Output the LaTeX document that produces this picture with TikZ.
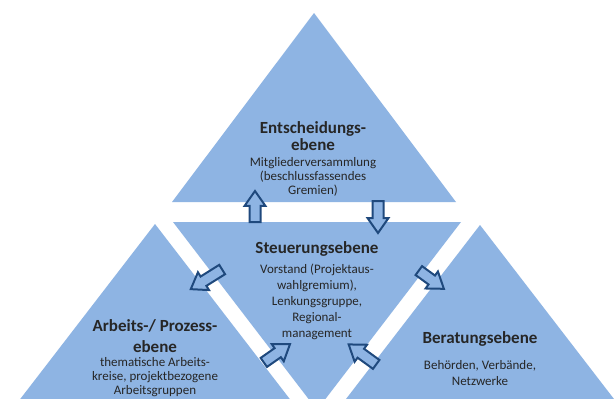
\documentclass[tikz,border=0pt]{standalone}
\usepackage{fontspec}
\setmainfont{Carlito}
\usetikzlibrary{positioning,shapes.arrows}
\definecolor{ebeneblue}{HTML}{8EB4E3}
\definecolor{arrowblue}{HTML}{1F497D}
\tikzset{%
	ebene/.style    = {fill=ebeneblue}, % triangle
	title/.style    = {align=center, text=black!85, inner sep=0pt, font=\bfseries\fontsize{17}{16.5}\selectfont},
	body/.style     = {align=center, text=black!85, inner sep=0pt, font=\fontsize{13}{14.5}\selectfont},
	flow/.style     = {single arrow, draw=arrowblue, fill=ebeneblue, line width=2pt, inner sep=4.5pt,
	                   single arrow head extend=5pt, single arrow tip angle=70, anchor=tail}, % block arrow
}

\begin{document}
\begin{tikzpicture}[x=1pt, y=-1pt]
	\fill[white] (0,0) rectangle (614,399);
	\useasboundingbox (0,0) rectangle (614,399);
	\clip (0,0) rectangle (614,399);
	% triangles
	\fill[ebene] (314,13) -- (456,202) -- (172,202) -- cycle;
	\fill[ebene] (173,222) -- (461,222) -- (317,410) -- cycle;
	\fill[ebene] (155,224) -- (299,411) -- (11,411) -- cycle;
	\fill[ebene] (480,225) -- (624,412) -- (336,412) -- cycle;
	% texts
	\node[title] (entT) at (313,136) {Entscheidungs-\\ebene};
	\node[body, font=\fontsize{13}{14}\selectfont] (entB) at (313,177) {Mitgliederversammlung\\(beschlussfassendes\\Gremien)};
	\node[title] (steT) at (317,249) {Steuerungsebene};
	\node[body, font=\fontsize{13}{16}\selectfont] (steB) at (317,302) {Vorstand (Projektaus-\\wahlgremium),\\Lenkungsgruppe,\\Regional-\\management};
	\node[title, font=\bfseries\fontsize{17}{21}\selectfont] (arbT) at (155,336) {Arbeits-/ Prozess-\\ebene};
	\node[body, font=\fontsize{13}{14}\selectfont] (arbB) at (155,377) {thematische Arbeits-\\kreise, projektbezogene\\Arbeitsgruppen};
	\node[title] (berT) at (480,339) {Beratungsebene};
	\node[body, font=\fontsize{13}{16}\selectfont] (berB) at (480,373) {Behörden, Verbände,\\Netzwerke};
	% arrows
	\node[flow, rotate=90, minimum height=31pt] (upEnt) at (255,223) {};
	\node[flow, rotate=-90, minimum height=32pt] (downSte) at (378,200) {};
	\node[flow, rotate=212, minimum height=37pt] (toArb) at (223,269) {};
	\node[flow, rotate=35, minimum height=32pt] (fromArb) at (263,363) {};
	\node[flow, rotate=-36, minimum height=31pt] (toBer) at (418,270) {};
	\node[flow, rotate=144, minimum height=34pt] (fromBer) at (377,365) {};
\end{tikzpicture}
\end{document}
